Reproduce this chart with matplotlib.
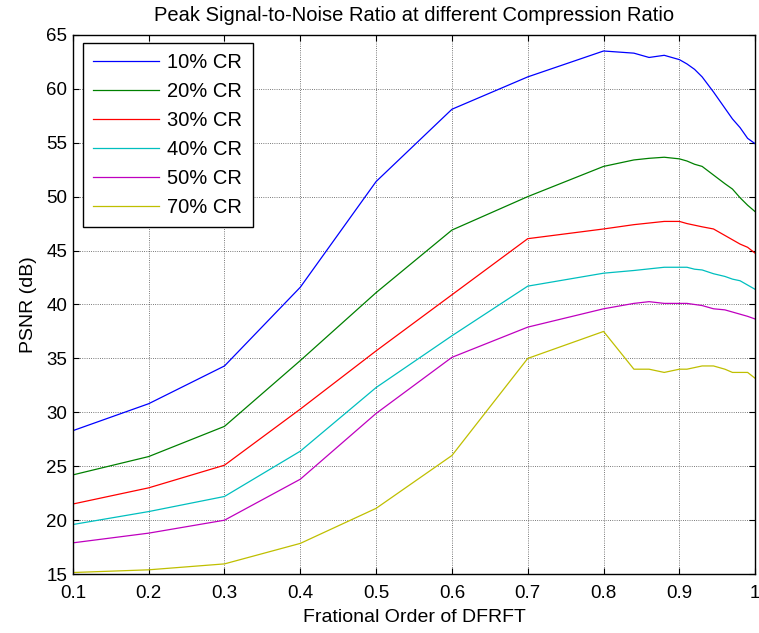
import numpy as np
import matplotlib
matplotlib.use('Agg')
from matplotlib import pyplot as plt

plt.rcParams['font.family'] = ['Liberation Sans', 'DejaVu Sans']

# fractional order samples
order = [0.1, 0.2, 0.3, 0.4, 0.5, 0.6, 0.7, 0.8, 0.84, 0.86, 0.88, 0.9,
         0.91, 0.92, 0.93, 0.945, 0.96, 0.97, 0.98, 0.99, 1.0]

psnr_10 = [28.3, 30.8, 34.3, 41.6, 51.4, 58.1, 61.1, 63.5, 63.3, 62.9, 63.1, 62.7,
           62.3, 61.8, 61.1, 59.7, 58.2, 57.2, 56.4, 55.4, 54.9]
psnr_20 = [24.2, 25.9, 28.7, 34.8, 41.1, 46.9, 50.0, 52.8, 53.4, 53.55, 53.65, 53.5,
           53.3, 53.0, 52.8, 52.0, 51.2, 50.7, 49.9, 49.2, 48.6]
psnr_30 = [21.5, 23.0, 25.1, 30.3, 35.7, 40.9, 46.1, 47.0, 47.4, 47.55, 47.7, 47.7,
           47.5, 47.35, 47.2, 47.0, 46.4, 46.0, 45.6, 45.3, 44.75]
psnr_40 = [19.6, 20.8, 22.2, 26.4, 32.3, 37.1, 41.7, 42.9, 43.15, 43.3, 43.45, 43.45,
           43.45, 43.27, 43.2, 42.85, 42.6, 42.35, 42.2, 41.8, 41.4]
psnr_50 = [17.9, 18.8, 20.0, 23.8, 29.9, 35.1, 37.9, 39.6, 40.1, 40.26, 40.1, 40.1,
           40.1, 40.0, 39.9, 39.6, 39.5, 39.3, 39.1, 38.9, 38.65]
psnr_70 = [15.15, 15.4, 15.95, 17.85, 21.1, 26.0, 35.0, 37.5, 34.0, 34.0, 33.7, 34.0,
           34.0, 34.15, 34.3, 34.3, 34.0, 33.7, 33.7, 33.7, 33.15]

labels = ['10% CR', '20% CR', '30% CR', '40% CR', '50% CR', '70% CR']
series = [psnr_10, psnr_20, psnr_30, psnr_40, psnr_50, psnr_70]
colors = [(0, 0, 1), (0, 0.5, 0), (1, 0, 0), (0, 0.75, 0.75), (0.75, 0, 0.75), (0.75, 0.75, 0)]

fig = plt.figure(figsize=(7.59, 6.33), dpi=100)
ax = fig.add_axes([0.096, 0.093, 0.899, 0.852])

for y, lab, c in zip(series, labels, colors):
    ax.plot(order, y, '-', color=c, linewidth=0.9, label=lab)

ax.set_xlim(0.1, 1.0)
ax.set_ylim(15, 65)
ax.set_xticks(np.arange(0.1, 1.01, 0.1))
ax.set_xticklabels(['0.1', '0.2', '0.3', '0.4', '0.5', '0.6', '0.7', '0.8', '0.9', '1'])
ax.set_yticks(np.arange(15, 66, 5))
ax.grid(True, color='black', linestyle=':', linewidth=0.6, alpha=0.7)
ax.tick_params(direction='in', top=True, right=True, labelsize=13.5, length=4)
ax.tick_params(axis='x', pad=8)
ax.tick_params(axis='y', pad=4)
for s in ax.spines.values():
    s.set_linewidth(1.0)

ax.set_title('Peak Signal-to-Noise Ratio at different Compression Ratio', fontsize=14.5, pad=10)
ax.set_xlabel('Frational Order of DFRFT', fontsize=14, labelpad=5)
ax.set_ylabel('PSNR (dB)', fontsize=14, labelpad=7)

leg = ax.legend(loc='upper left', fontsize=14.5, handlelength=3.3, handletextpad=0.4,
                fancybox=False, edgecolor='black', framealpha=1, borderpad=0.5,
                borderaxespad=0, labelspacing=0.5, bbox_to_anchor=(0.0147, 0.985))
leg.get_frame().set_linewidth(1.0)

fig.savefig('out.png', dpi=100)
